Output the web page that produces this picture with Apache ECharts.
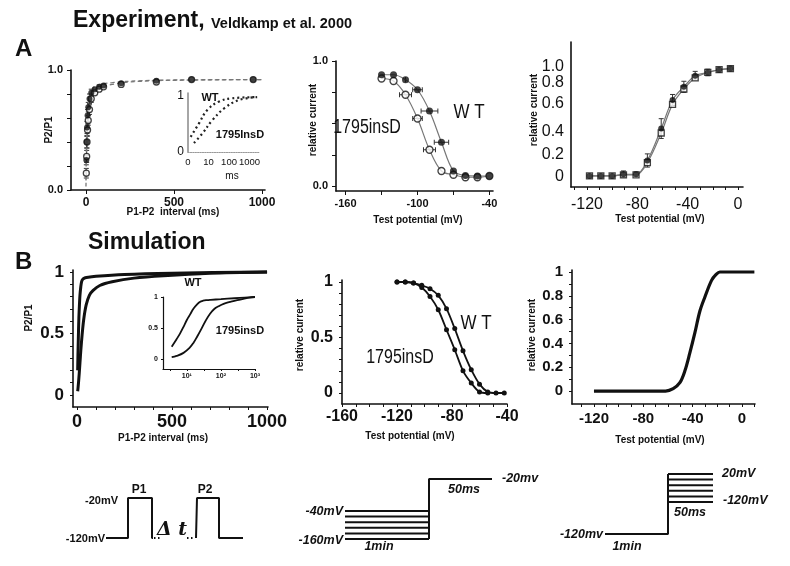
<!DOCTYPE html>
<html><head><meta charset="utf-8">
<script src="https://cdn.jsdelivr.net/npm/echarts@6/dist/echarts.min.js"></script>
<style>html,body{margin:0;padding:0;background:#fff}#c{width:790px;height:566px}</style>
</head><body><div id="c"></div>
<script>
// ================= DATA =================
// A1: recovery from inactivation (experiment)
const a1_time = [2, 4, 6, 9, 13, 20, 30, 50, 75, 100, 200, 400, 600, 950];
const a1_wt   = [0.25, 0.40, 0.52, 0.62, 0.69, 0.76, 0.81, 0.84, 0.86, 0.87, 0.89, 0.91, 0.92, 0.92];
const a1_ins  = [0.14, 0.28, 0.40, 0.50, 0.58, 0.67, 0.76, 0.81, 0.84, 0.86, 0.88, 0.90, 0.92, 0.92];
const a1_fit_t = [0, 2, 5, 10, 20, 40, 80, 150, 300, 600, 1000];
const a1_fit_wt = [0.08, 0.30, 0.52, 0.67, 0.78, 0.85, 0.88, 0.895, 0.91, 0.918, 0.92];
const a1_fit_ins = [0.03, 0.18, 0.38, 0.55, 0.68, 0.78, 0.845, 0.88, 0.905, 0.916, 0.92];
const a1_err = [0.04, 0.05, 0.05, 0.05, 0.04, 0.04, 0.03];
// A1 inset (log time, ms)
const ia_wt_t = [1.35, 3.4, 8.7, 32, 145, 2400];
const ia_wt   = [0.27, 0.51, 0.75, 0.90, 0.96, 0.98];
const ia_ins_t = [1.95, 5, 15.5, 58, 310, 2350];
const ia_ins   = [0.16, 0.33, 0.57, 0.78, 0.93, 0.98];
// A2: steady-state inactivation (experiment)
const a2_v   = [-130, -120, -110, -100, -90, -80, -70, -60, -50, -40];
const a2_wt  = [0.89, 0.89, 0.85, 0.77, 0.60, 0.35, 0.12, 0.085, 0.08, 0.08];
const a2_ins = [0.86, 0.84, 0.73, 0.54, 0.29, 0.12, 0.09, 0.07, 0.07, 0.08];
const a2_errWT  = [[-110, 0.85, 0], [-100, 0.77, 4], [-90, 0.60, 7], [-80, 0.35, 6]];
const a2_errIns = [[-110, 0.73, 5], [-100, 0.54, 4], [-90, 0.29, 5]];
// A3: activation (experiment)
const a3_v   = [-118, -109, -100, -91, -81, -72, -61, -52, -43, -34, -24, -15, -6];
const a3_wt  = [0.01, 0.01, 0.01, 0.025, 0.025, 0.15, 0.44, 0.70, 0.82, 0.92, 0.95, 0.975, 0.985];
const a3_ins = [0.01, 0.01, 0.01, 0.02, 0.02, 0.13, 0.40, 0.66, 0.80, 0.90, 0.95, 0.975, 0.985];
const a3_err = [0.02, 0.02, 0.02, 0.03, 0.02, 0.06, 0.09, 0.05, 0.05, 0.04, 0.03, 0.02, 0.02];
const a3_yTickLabels = ['0', '0.2', '0.4', '0.6', '0.8', '1.0'];
const a3_yTickPos    = [0, 0.2, 0.41, 0.67, 0.855, 1.0];
// B1: recovery (simulation)
const b1_wt_t = [3.6, 5, 6.3, 8, 10, 12.5, 15.6, 20, 24, 30, 39, 50, 100, 250, 500, 1000];
const b1_wt   = [0.2, 0.32, 0.41, 0.52, 0.63, 0.72, 0.81, 0.88, 0.92, 0.94, 0.95, 0.955, 0.965, 0.98, 0.99, 1.0];
const b1_ins_t = [3.6, 5, 8, 12, 15.6, 20, 27, 35, 48, 65, 85, 120, 185, 300, 455, 700, 1000];
const b1_ins   = [0.03, 0.05, 0.1, 0.18, 0.26, 0.36, 0.49, 0.61, 0.73, 0.81, 0.85, 0.89, 0.92, 0.95, 0.97, 0.99, 1.0];
// B2: steady-state inactivation (simulation)
const b2_v   = [-120, -114, -108, -102, -96, -90, -84, -78, -72, -66, -60, -54, -48, -42];
const b2_wt  = [1.0, 1.0, 0.99, 0.97, 0.94, 0.88, 0.76, 0.58, 0.38, 0.21, 0.08, 0.01, 0, 0];
const b2_ins = [1.0, 1.0, 0.99, 0.95, 0.87, 0.75, 0.57, 0.39, 0.20, 0.09, 0.01, 0];
// B3: activation (simulation)
const b3_v = [-120, -62, -55.8, -50.4, -46.3, -42.3, -38.2, -34.2, -30.1, -24.7, -21, -18, 10];
const b3_y = [0, 0, 0.02, 0.07, 0.17, 0.32, 0.49, 0.67, 0.79, 0.93, 0.98, 1.0, 1.0];
// Protocol schematics (drawing units: time in arbitrary steps, levels in schematic mV)
const p1_pulse1 = [[6, -120], [28, -120], [28, -20], [52, -20], [52, -120], [53, -120]];
const p1_gap1 = [[54, -120], [60, -120]];
const p1_gap2 = [[87, -120], [95, -120]];
const p1_pulse2 = [[96, -120], [97, -120], [97, -20], [119, -20], [119, -120], [143, -120]];
const p2_hold = [-40, -64, -88, -112, -136, -160];
const p2_holdT = [0, 84];
const p2_testT = [84, 147];
const p2_testLevel = 97;
const p3_holdT = [0, 63];
const p3_holdLevel = -280;
const p3_testT = [63, 108];
const p3_test = [20, -8, -36, -64, -92, -120];

// ================= HELPERS =================
const FONT = "'Liberation Sans', Arial, Helvetica, sans-serif";
const INK = '#111';
const GRAY = '#777';
function merge(a, b) {
  const out = Array.isArray(a) ? a.slice() : Object.assign({}, a);
  for (const k in b) {
    if (b[k] && typeof b[k] === 'object' && !Array.isArray(b[k]) && a && typeof a[k] === 'object' && !Array.isArray(a[k])) out[k] = merge(a[k], b[k]);
    else out[k] = b[k];
  }
  return out;
}
function ax(o) {
  return merge({
    type: 'value', scale: false,
    axisLine: { show: true, onZero: false, lineStyle: { color: INK, width: 1.6 } },
    axisTick: { show: true, length: 4, lineStyle: { color: INK, width: 1 } },
    splitLine: { show: false },
    axisLabel: { color: INK, fontFamily: FONT, fontWeight: 'bold', formatter: v => String(v) }
  }, o);
}
const zip = (xs, ys) => xs.map((x, i) => [x, ys[i]]);
const zipLog = (xs, ys) => xs.map((x, i) => [Math.log10(x), ys[i]]);
function errSeries(xi, yi, data, horizontal) {
  return {
    type: 'custom', xAxisIndex: xi, yAxisIndex: yi, silent: true, z: 3, data,
    renderItem: (params, api) => {
      const x = api.value(0), y = api.value(1), e = api.value(2);
      const p1 = horizontal ? api.coord([x - e, y]) : api.coord([x, y - e]);
      const p2 = horizontal ? api.coord([x + e, y]) : api.coord([x, y + e]);
      const c = 2.5, st = { stroke: '#333', lineWidth: 1 };
      const ch = [{ type: 'line', shape: { x1: p1[0], y1: p1[1], x2: p2[0], y2: p2[1] }, style: st }];
      if (horizontal) {
        ch.push({ type: 'line', shape: { x1: p1[0], y1: p1[1] - c, x2: p1[0], y2: p1[1] + c }, style: st });
        ch.push({ type: 'line', shape: { x1: p2[0], y1: p2[1] - c, x2: p2[0], y2: p2[1] + c }, style: st });
      } else {
        ch.push({ type: 'line', shape: { x1: p1[0] - c, y1: p1[1], x2: p1[0] + c, y2: p1[1] }, style: st });
        ch.push({ type: 'line', shape: { x1: p2[0] - c, y1: p2[1], x2: p2[0] + c, y2: p2[1] }, style: st });
      }
      return { type: 'group', children: ch };
    }
  };
}
function line(xi, data, o) {
  return merge({ type: 'line', xAxisIndex: xi, yAxisIndex: xi, data, symbol: 'none', silent: true,
    lineStyle: { color: INK, width: 2 }, animation: false }, o || {});
}
function scat(xi, data, open, size, sym) {
  return { type: 'scatter', xAxisIndex: xi, yAxisIndex: xi, data, symbol: sym || 'circle', symbolSize: size || 6, silent: true, z: 4,
    itemStyle: open ? { color: '#fff', borderColor: INK, borderWidth: 1.3 } : { color: INK } };
}

// ================= AXES =================
const xAxes = [
  // 0 A1
  ax({ gridIndex: 0, min: -85, max: 1017, axisTick: { customValues: [0, 500, 1000] }, axisLabel: { customValues: [0, 500, 1000], fontSize: 12, margin: 7 } }),
  // 1 inset A (log10 ms)
  ax({ gridIndex: 1, min: 0, max: 3.51, axisLine: { lineStyle: { color: '#999', width: 1.2, type: 'dotted' } }, axisTick: { show: false },
       axisLabel: { customValues: [0, 1, 2, 3], formatter: v => ['0', '10', '100', '1000'][Math.round(v)], fontSize: 9.5, fontWeight: 'normal', margin: 5 } }),
  // 2 A2
  ax({ gridIndex: 2, min: -168, max: -37, axisTick: { customValues: [-160, -130, -100, -70, -40] }, axisLabel: { customValues: [-160, -100, -40], fontSize: 11, margin: 7 } }),
  // 3 A3
  ax({ gridIndex: 3, min: -132.7, max: 4, axisTick: { customValues: [-130, -120, -110, -100, -90, -80, -70, -60, -50, -40, -30, -20, -10, 0], length: 3 },
       axisLabel: { customValues: [-120, -80, -40, 0], fontSize: 16, fontWeight: 'normal', margin: 10 } }),
  // 4 B1
  ax({ gridIndex: 4, min: -21, max: 1005, axisTick: { customValues: [0, 100, 200, 300, 400, 500, 600, 700, 800, 900, 1000], length: 3 },
       axisLabel: { customValues: [0, 500, 1000], fontSize: 18, margin: 6 } }),
  // 5 inset B (log10 ms)
  ax({ gridIndex: 5, min: 0.301, max: 3.0, axisLine: { lineStyle: { width: 1.2 } }, axisTick: { customValues: [0.5, 1, 1.5, 2, 2.5, 3], length: 2 },
       axisLabel: { customValues: [1, 2, 3], formatter: v => ['', '10\u00B9', '10\u00B2', '10\u00B3'][Math.round(v)], fontSize: 7, margin: 4 } }),
  // 6 B2
  ax({ gridIndex: 6, min: -160, max: -40, axisTick: { customValues: [-160, -150, -140, -130, -120, -110, -100, -90, -80, -70, -60, -50, -40], length: 3 },
       axisLabel: { customValues: [-160, -120, -80, -40], fontSize: 16, margin: 5 } }),
  // 7 B3
  ax({ gridIndex: 7, min: -137.8, max: 10.5, axisTick: { customValues: [-130, -120, -110, -100, -90, -80, -70, -60, -50, -40, -30, -20, -10, 0, 10], length: 3 },
       axisLabel: { customValues: [-120, -80, -40, 0], fontSize: 15, margin: 7 } }),
  // 8-10 protocols
  { gridIndex: 8, type: 'value', min: 0, max: 150, show: false },
  { gridIndex: 9, type: 'value', min: 0, max: 150, show: false },
  { gridIndex: 10, type: 'value', min: 0, max: 110, show: false }
];
const yAxes = [
  ax({ gridIndex: 0, min: 0, max: 1, interval: 0.2, axisLabel: { customValues: [0, 1], formatter: v => v.toFixed(1), fontSize: 11, margin: 8 } }),
  ax({ gridIndex: 1, min: 0, max: 1.054, axisLine: { lineStyle: { color: '#888', width: 1.5 } }, axisTick: { show: false },
       axisLabel: { customValues: [0, 1], fontSize: 12, fontWeight: 'normal', margin: 4 } }),
  ax({ gridIndex: 2, min: -0.04, max: 1.0, axisTick: { customValues: [0, 0.25, 0.5, 0.75, 1] }, axisLabel: { customValues: [0, 1], formatter: v => v.toFixed(1), fontSize: 11, margin: 8 } }),
  ax({ gridIndex: 3, min: -0.091, max: 1.227, axisTick: { show: false },
       axisLabel: { customValues: a3_yTickPos, formatter: v => { let b = 0; a3_yTickPos.forEach((p, i) => { if (Math.abs(p - v) < Math.abs(a3_yTickPos[b] - v)) b = i; }); return a3_yTickLabels[b]; }, fontSize: 16, fontWeight: 'normal', margin: 7 } }),
  ax({ gridIndex: 4, min: -0.098, max: 1.016, axisTick: { customValues: [0, 0.1, 0.2, 0.3, 0.4, 0.5, 0.6, 0.7, 0.8, 0.9, 1], length: 3 },
       axisLabel: { customValues: [0, 0.5, 1], fontSize: 17, margin: 9 } }),
  ax({ gridIndex: 5, min: -0.16, max: 1.0, axisLine: { lineStyle: { width: 1.2 } }, axisTick: { customValues: [0, 0.5, 1], length: 2 },
       axisLabel: { customValues: [0, 0.5, 1], fontSize: 7, margin: 5 } }),
  ax({ gridIndex: 6, min: -0.099, max: 1.018, axisTick: { customValues: [0, 0.1, 0.2, 0.3, 0.4, 0.5, 0.6, 0.7, 0.8, 0.9, 1], length: 3 },
       axisLabel: { customValues: [0, 0.5, 1], fontSize: 16, margin: 9 } }),
  ax({ gridIndex: 7, min: -0.109, max: 1.017, axisTick: { customValues: [0, 0.1, 0.2, 0.3, 0.4, 0.5, 0.6, 0.7, 0.8, 0.9, 1], length: 3 },
       axisLabel: { customValues: [0, 0.2, 0.4, 0.6, 0.8, 1], fontSize: 15, margin: 9 } }),
  { gridIndex: 8, type: 'value', min: -120, max: -20, show: false },
  { gridIndex: 9, type: 'value', min: -160, max: 97, show: false },
  { gridIndex: 10, type: 'value', min: -280, max: 20, show: false }
];

// ================= SERIES =================
const series = [];
// A1
series.push(line(0, zip(a1_fit_t, a1_fit_wt), { smooth: 0.4, lineStyle: { color: GRAY, width: 1.3, type: [4, 3] } }));
series.push(line(0, zip(a1_fit_t, a1_fit_ins), { smooth: 0.4, lineStyle: { color: GRAY, width: 1.3, type: [4, 3] } }));
series.push(errSeries(0, 0, a1_err.map((e, i) => [a1_time[i], a1_wt[i], e])));
series.push(errSeries(0, 0, a1_err.map((e, i) => [a1_time[i], a1_ins[i], e])));
series.push(scat(0, zip(a1_time, a1_ins), true, 6));
series.push(scat(0, zip(a1_time, a1_wt), false, 6));
// inset A
series.push(line(1, zipLog(ia_wt_t, ia_wt), { smooth: 0.4, lineStyle: { color: '#222', width: 2.2, type: [2, 3] } }));
series.push(line(1, zipLog(ia_ins_t, ia_ins), { smooth: 0.4, lineStyle: { color: '#222', width: 2.2, type: [2, 3] } }));
// A2
series.push(line(2, zip(a2_v, a2_wt), { smooth: 0.35, lineStyle: { color: GRAY, width: 1.2 } }));
series.push(line(2, zip(a2_v, a2_ins), { smooth: 0.35, lineStyle: { color: GRAY, width: 1.2 } }));
series.push(errSeries(2, 2, a2_errWT, true));
series.push(errSeries(2, 2, a2_errIns, true));
series.push(scat(2, zip(a2_v, a2_ins), true, 7));
series.push(scat(2, zip(a2_v, a2_wt), false, 7));
// A3
series.push(line(3, zip(a3_v, a3_wt), { smooth: 0.35, lineStyle: { color: GRAY, width: 1.2 } }));
series.push(line(3, zip(a3_v, a3_ins), { smooth: 0.35, lineStyle: { color: GRAY, width: 1.2 } }));
series.push(errSeries(3, 3, a3_err.map((e, i) => [a3_v[i], a3_wt[i], e])));
series.push(scat(3, zip(a3_v, a3_ins), true, 6, 'rect'));
series.push(scat(3, zip(a3_v, a3_wt), false, 6));
// B1
series.push(line(4, zip(b1_wt_t, b1_wt), { smooth: 0.3, lineStyle: { width: 3 } }));
series.push(line(4, zip(b1_ins_t, b1_ins), { smooth: 0.3, lineStyle: { width: 3 } }));
// inset B
series.push(line(5, zipLog(b1_wt_t, b1_wt), { smooth: 0.4, lineStyle: { width: 1.8 } }));
series.push(line(5, zipLog(b1_ins_t, b1_ins), { smooth: 0.4, lineStyle: { width: 1.8 } }));
// B2
series.push(line(6, zip(b2_v, b2_wt), { smooth: 0.3, symbol: 'circle', symbolSize: 5, itemStyle: { color: INK }, lineStyle: { width: 1.8 } }));
series.push(line(6, zip(b2_v.slice(0, b2_ins.length), b2_ins), { smooth: 0.3, symbol: 'circle', symbolSize: 5, itemStyle: { color: INK }, lineStyle: { width: 1.8 } }));
// B3
series.push(line(7, zip(b3_v, b3_y), { smooth: 0.35, lineStyle: { width: 3.2 } }));
// Protocols
const pst = { lineStyle: { width: 2, color: INK } };
const dst = { lineStyle: { width: 2, color: INK, type: [1.5, 2.5] } };
series.push(line(8, p1_pulse1, pst));
series.push(line(8, p1_gap1, dst));
series.push(line(8, p1_gap2, dst));
series.push(line(8, p1_pulse2, pst));
p2_hold.forEach(l => series.push(line(9, p2_holdT.map(t => [t, l]), pst)));
series.push(line(9, [[p2_testT[0], p2_hold[p2_hold.length - 1]], [p2_testT[0], p2_testLevel], [p2_testT[1], p2_testLevel]], pst));
series.push(line(10, p3_holdT.map(t => [t, p3_holdLevel]).concat([[p3_holdT[1], p3_test[0]]]), pst));
p3_test.forEach(l => series.push(line(10, p3_testT.map(t => [t, l]), pst)));

// ================= TEXT =================
function T(text, x, y, font, align, opt) {
  return merge({ type: 'text', x, y, silent: true, z: 10,
    style: { text, font: font + ' ' + FONT, fill: INK, align: align || 'center', verticalAlign: 'middle' } }, opt || {});
}
const rot = Math.PI / 2;
const graphics = [
  T('Experiment,', 73, 21, 'bold 23px', 'left'),
  T('Veldkamp et al. 2000', 211, 24, 'bold 14.5px', 'left'),
  T('A', 15, 49, 'bold 24px', 'left'),
  T('Simulation', 88, 243, 'bold 23px', 'left'),
  T('B', 15, 262, 'bold 24px', 'left'),
  // axis titles
  T('P1-P2  interval (ms)', 173, 212, 'bold 10px'),
  T('P2/P1', 49, 130, 'bold 10px', 'center', { rotation: rot }),
  T('Test potential (mV)', 418, 220, 'bold 10px'),
  T('relative current', 313, 120, 'bold 10px', 'center', { rotation: rot }),
  T('Test potential (mV)', 660, 219, 'bold 10px'),
  T('relative current', 534, 110, 'bold 10px', 'center', { rotation: rot }),
  T('P2/P1', 29, 318, 'bold 10px', 'center', { rotation: rot }),
  T('P1-P2 interval (ms)', 163, 438, 'bold 10px'),
  T('relative current', 300, 335, 'bold 10px', 'center', { rotation: rot }),
  T('Test potential (mV)', 410, 436, 'bold 10px'),
  T('relative current', 532, 335, 'bold 10px', 'center', { rotation: rot }),
  T('Test potential (mV)', 660, 440, 'bold 10px'),
  // insets / annotations
  T('WT', 210, 98, 'bold 11px'),
  T('1795InsD', 240, 135, 'bold 11px'),
  T('ms', 232, 176, '10px'),
  T('WT', 193, 283, 'bold 11px'),
  T('1795insD', 240, 331, 'bold 11px'),
  T('1795insD', 367, 127, '20px', 'center', { scaleX: 0.8 }),
  T('W T', 469, 112, '20px', 'center', { scaleX: 0.85 }),
  T('1795insD', 400, 357, '20px', 'center', { scaleX: 0.8 }),
  T('W T', 476, 323, '20px', 'center', { scaleX: 0.85 }),
  // protocol labels
  T('-20mV', 118, 501, 'bold 11px', 'right'),
  T('-120mV', 105, 539, 'bold 11px', 'right'),
  T('P1', 139, 490, 'bold 12px'),
  T('P2', 205, 490, 'bold 12px'),
  { type: 'text', x: 172, y: 530, silent: true, style: { text: '\u0394 t', font: 'italic bold 19px "DejaVu Serif", serif', fill: INK, align: 'center', verticalAlign: 'middle' } },
  T('-40mV', 343, 512, 'italic bold 12.5px', 'right'),
  T('-160mV', 343, 541, 'italic bold 12.5px', 'right'),
  T('1min', 379, 547, 'italic bold 12.5px'),
  T('50ms', 464, 490, 'italic bold 12.5px'),
  T('-20mv', 502, 479, 'italic bold 12.5px', 'left'),
  T('20mV', 722, 474, 'italic bold 12.5px', 'left'),
  T('-120mV', 723, 501, 'italic bold 12.5px', 'left'),
  T('50ms', 690, 513, 'italic bold 12.5px'),
  T('-120mv', 603, 535, 'italic bold 12.5px', 'right'),
  T('1min', 627, 547, 'italic bold 12.5px')
];

const grids = [
  { left: 71, top: 70, width: 194, height: 120 },
  { left: 188, top: 93, width: 72, height: 59 },
  { left: 336, top: 61, width: 157, height: 130 },
  { left: 571, top: 42, width: 172, height: 145 },
  { left: 73, top: 270, width: 195, height: 137 },
  { left: 163, top: 297, width: 92, height: 72 },
  { left: 342, top: 280, width: 165, height: 124 },
  { left: 572, top: 270, width: 183, height: 134 },
  { left: 100, top: 498, width: 150, height: 40 },
  { left: 345, top: 479, width: 150, height: 60 },
  { left: 605, top: 474, width: 110, height: 60 }
];

const chart = echarts.init(document.getElementById('c'), null, { renderer: 'canvas' });
chart.setOption({
  animation: false,
  backgroundColor: '#fff',
  grid: grids,
  xAxis: xAxes,
  yAxis: yAxes,
  series: series,
  graphic: graphics
});
</script>
</body></html>
